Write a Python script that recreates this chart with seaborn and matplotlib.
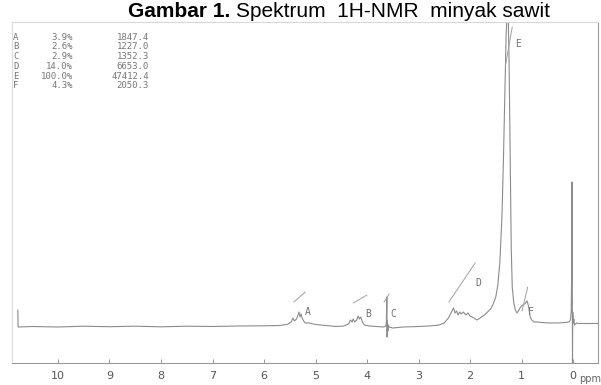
import matplotlib
matplotlib.use("Agg")
import matplotlib.pyplot as plt
import seaborn as sns
import pandas as pd

# ---------------- data ----------------
# spectrum trace: chemical shift (ppm) and signal height (arbitrary units above baseline)
ppm = [10.78, 10.775, 10.5, 10.0, 9.5, 9.0, 8.5, 8.0, 7.5, 7.0, 6.5, 6.0, 5.7, 5.55, 5.47,
       5.44, 5.41, 5.37, 5.34, 5.32, 5.30, 5.28, 5.26, 5.23, 5.20, 5.12, 5.0, 4.8, 4.6,
       4.45, 4.36, 4.32, 4.29, 4.27, 4.24, 4.20, 4.17, 4.15, 4.12, 4.09, 4.05, 3.95, 3.8,
       3.68, 3.64, 3.625, 3.615, 3.61, 3.605, 3.595, 3.585, 3.57, 3.5, 3.3, 3.0, 2.8, 2.6,
       2.5, 2.42, 2.36, 2.32, 2.29, 2.26, 2.23, 2.20, 2.17, 2.13, 2.08, 2.04, 2.00, 1.96,
       1.92, 1.87, 1.83, 1.78, 1.72, 1.66, 1.60, 1.55, 1.50, 1.46, 1.42, 1.38, 1.35, 1.32,
       1.30, 1.28, 1.26, 1.24, 1.22, 1.20, 1.18, 1.15, 1.12, 1.09, 1.06, 1.03, 1.00, 0.97,
       0.94, 0.91, 0.89, 0.87, 0.85, 0.83, 0.80, 0.76, 0.70, 0.6, 0.45, 0.3, 0.15, 0.08,
       0.05, 0.035, 0.025, 0.02, 0.015, 0.01, 0.005, -0.005, -0.015, -0.03, -0.05, -0.07,
       -0.1, -0.2, -0.35, -0.49]
intensity = [17, 0, 0.5, 0, 0.8, 0.3, 0.8, 0.2, 0.8, 0.5, 1.0, 1.2, 1.5, 2.5, 5,
             9, 6, 8, 12, 15, 10, 13, 9, 6, 4, 4, 2.5, 1.5, 0.5,
             1, 3, 7, 5, 8, 5, 7, 11, 8, 10, 5, 2, 1, 0.5,
             0, 1, 3, 30, -10, 6, -4, 2, 0, -1, 0, 0.5, 1, 2,
             4, 9, 15, 19, 14, 16, 12, 15, 13, 15, 12, 14, 11, 10,
             9, 7, 8, 10, 12, 15, 18, 23, 30, 42, 65, 110, 170, 240,
             290, 315, 318, 260, 170, 80, 40, 24, 17, 14, 16, 19, 21, 22,
             23, 25, 26, 22, 16, 10, 7, 5, 5, 4.5, 4, 4, 4.5, 5,
             7, 15, 60, 145, 40, -36, 15, 4, 8, 2, 3, 4,
             3.5, 3.5, 3.5, 3.5]

# integral traces (slanted strokes above each signal)
integ_ppm_start = [5.42, 4.27, 3.67, 2.41, 1.31, 0.99]
integ_ppm_end = [5.20, 4.00, 3.57, 1.90, 1.18, 0.88]
integ_h_start = [25, 24, 25, 25, 262, 16]
integ_h_end = [35, 32, 33, 64, 300, 40]

# peak labels and integration table
peak_names = ["A", "B", "C", "D", "E", "F"]
peak_label_ppm = [5.15, 3.98, 3.48, 1.84, 1.07, 0.82]
peak_label_h = [15, 13, 13, 44, 283, 15]
peak_percent = ["3.9%", "2.6%", "2.9%", "14.0%", "100.0%", "4.3%"]
peak_area = ["1847.4", "1227.0", "1352.3", "6653.0", "47412.4", "2050.3"]

tick_values = [0, 1, 2, 3, 4, 5, 6, 7, 8, 9, 10]
tick_labels = ["0", "1", "2", "3", "4", "5", "6", "7", "8", "9", "10"]

# ---------------- drawing ----------------
sns.set_theme(style="white")
plt.rcParams["font.family"] = ["DejaVu Sans"]

W, H = 601, 385
fig = plt.figure(figsize=(W / 100, H / 100), dpi=100)
fig.patch.set_facecolor("white")

ax_top, ax_bottom = 22, 363
ax = fig.add_axes([12 / W, 1 - ax_bottom / H, 586 / W, (ax_bottom - ax_top) / H])
ax.set_facecolor("white")

trace_color = "#8c8c8c"
spec = pd.DataFrame({"ppm": ppm, "intensity": intensity})
sns.lineplot(data=spec, x="ppm", y="intensity", sort=False, estimator=None,
             color=trace_color, linewidth=0.8, ax=ax)

for x0, x1, y0, y1 in zip(integ_ppm_start, integ_ppm_end, integ_h_start, integ_h_end):
    seg = pd.DataFrame({"ppm": [x0, x1], "h": [y0, y1]})
    sns.lineplot(data=seg, x="ppm", y="h", sort=False, estimator=None,
                 color="#a0a0a0", linewidth=0.7, ax=ax)

for name, px, ph in zip(peak_names, peak_label_ppm, peak_label_h):
    ax.text(px, ph, name, fontsize=7, color="#707070", family="DejaVu Sans Mono",
            ha="center", va="center")

ax.set_xlim(10.893, -0.485)
ax.set_ylim(-36, 305)
ax.set_xticks(tick_values)
ax.set_xticklabels(tick_labels)
ax.set_yticks([])
ax.set_xlabel("")
ax.set_ylabel("")
ax.tick_params(axis="x", direction="in", length=3, width=0.6, colors="#888888",
               labelcolor="#555555", labelsize=8, pad=6, bottom=True)

for side, col in [("top", "#d8d8d8"), ("left", "#dddddd"), ("right", "#9a9a9a"), ("bottom", "#9a9a9a")]:
    ax.spines[side].set_visible(True)
    ax.spines[side].set_color(col)
    ax.spines[side].set_linewidth(0.8)

# "ppm" unit label at the bottom-right corner
fig.text(590 / W, 1 - 379 / H, "ppm", fontsize=7, color="#666666", ha="center", va="center")

# integration table in the top-left corner
row_y0, row_step = 37, 9.8
for i, (n, pc, ar) in enumerate(zip(peak_names, peak_percent, peak_area)):
    yy = 1 - (row_y0 + i * row_step) / H
    kw = dict(fontsize=6.5, color="#777777", family="DejaVu Sans Mono", va="center")
    fig.text(13 / W, yy, n, ha="left", **kw)
    fig.text(73 / W, yy, pc, ha="right", **kw)
    fig.text(149 / W, yy, ar, ha="right", **kw)

# caption at the top edge
cap_y = 1 - 17 / H
fig.text(230 / W, cap_y, "Gambar 1.", fontsize=15, fontweight="bold", color="black",
         family=["Liberation Sans", "DejaVu Sans"], ha="right", va="baseline")
fig.text(236 / W, cap_y, "Spektrum  1H-NMR  minyak sawit", fontsize=15, color="black",
         family=["Liberation Sans", "DejaVu Sans"], ha="left", va="baseline")

fig.savefig("out.png", dpi=100, facecolor="white")
